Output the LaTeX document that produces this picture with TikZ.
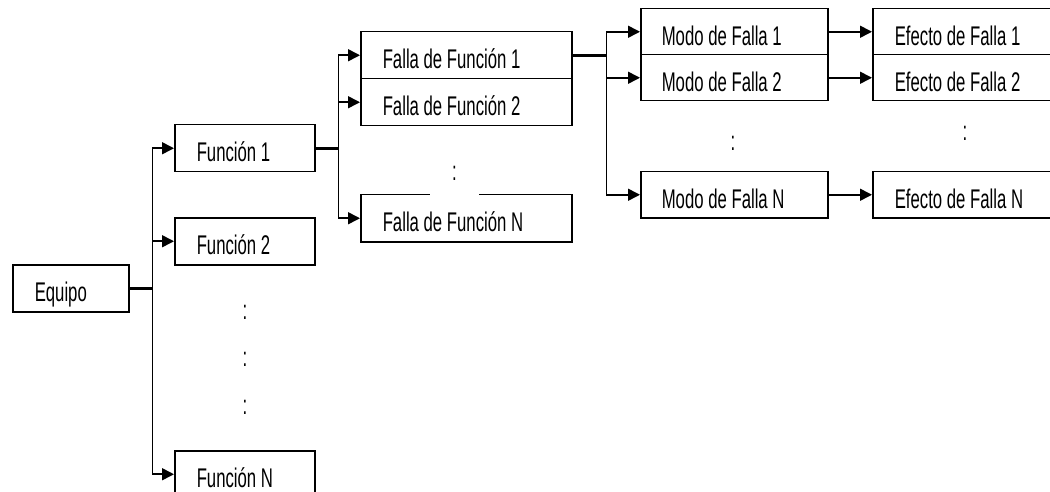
\documentclass[tikz,border=0pt]{standalone}
\usepackage{fontspec}
\setmainfont[FakeStretch=0.62,WordSpace=1.0]{Liberation Sans}
\usetikzlibrary{arrows.meta}
\begin{document}
\begin{tikzpicture}[x=1pt,y=-1pt,
  lbl/.style={font=\fontsize{27}{27}\selectfont},
  box/.style={lbl, draw, line width=1.5pt, anchor=north west,
    inner xsep=22pt, inner ysep=0pt, text height=27pt, text depth=0pt,
    align=flush left, minimum height=47pt},
  eqbox/.style={box, minimum width=116pt, text width=72pt},
  fnbox/.style={box, minimum width=140pt, text width=96pt},
  flbox/.style={box, minimum width=211pt, text width=167pt},
  mdbox/.style={box, minimum width=187pt, text width=145pt, inner xsep=21pt, minimum height=46pt},
  efbox/.style={box, minimum width=190pt, text width=146pt, minimum height=46pt},
  dots/.style={lbl, inner sep=0pt, text height=12pt, text depth=0pt},
  feed/.style={line width=2.6pt},
  branch/.style={line width=1.6pt, -{Triangle[length=12pt,width=12pt]}},
]
\useasboundingbox (0,0) rectangle (1050,492);
\clip (0,0) rectangle (1050,492);

% equipment and its functions
\node[eqbox] (eq) at (12,264) {Equipo};
\node[fnbox] (f1) at (174,124) {Función 1};
\node[fnbox] (f2) at (174,217) {Función 2};
\node[fnbox] (fn) at (174,450) {Función N};
\node[dots] (d1) at (245,313) {:};
\node[dots] (d2) at (245,360) {:};
\node[dots] (d3) at (245,408) {:};

% functional failures
\node[flbox] (ff1) at (360,31) {Falla de Función 1};
\node[flbox] (ff2) at (360,78) {Falla de Función 2};
\node[flbox] (ffn) at (360,194) {Falla de Función N};
\node[dots, fill=white, minimum width=49pt, minimum height=42pt] (d4) at (454.5,175) {:};

% failure modes and effects
\node[mdbox] (m1) at (640,8) {Modo de Falla 1};
\node[mdbox] (m2) at (640,54) {Modo de Falla 2};
\node[mdbox] (mn) at (640,171) {Modo de Falla N};
\node[dots] (d5) at (733,145) {:};
\node[efbox] (e1) at (872,8) {Efecto de Falla 1};
\node[efbox] (e2) at (872,54) {Efecto de Falla 2};
\node[efbox] (en) at (872,171) {Efecto de Falla N};
\node[dots] (d6) at (965,135) {:};

% equipment -> functions
\draw[feed] (eq.east) -- ++(23,0) coordinate (s0);
\draw[branch] (s0) |- (f1.west);
\draw[branch] (s0) |- (f2.west);
\draw[branch] (s0) |- (fn.west);

% function 1 -> functional failures
\draw[feed] (f1.east) -- ++(23,0) coordinate (s1);
\draw[branch] (s1) |- (ff1.west);
\draw[branch] (s1) |- (ff2.west);
\draw[branch] (s1) |- (ffn.west);

% functional failure 1 -> failure modes
\draw[feed] (ff1.east) -- ++(34,0) coordinate (s2);
\draw[branch] (s2) |- (m1.west);
\draw[branch] (s2) |- (m2.west);
\draw[branch] (s2) |- (mn.west);

% failure modes -> effects
\draw[branch] (m1.east) -- (e1.west);
\draw[branch] (m2.east) -- (e2.west);
\draw[branch] (mn.east) -- (en.west);
\end{tikzpicture}
\end{document}
